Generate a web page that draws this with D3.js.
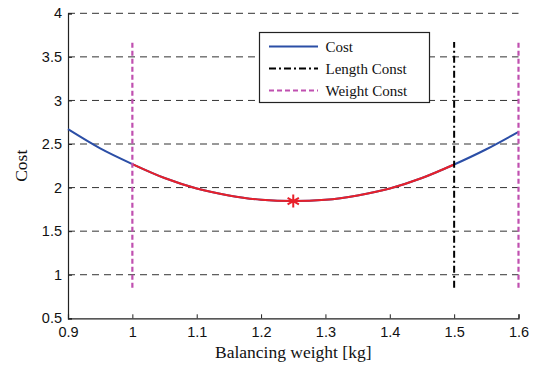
<!DOCTYPE html>
<html>
<head>
<meta charset="utf-8">
<script src="https://cdn.jsdelivr.net/npm/d3@7.9.0/dist/d3.min.js"></script>
<style>
  body { margin: 0; background: #fff; }
  svg { display: block; }
  .tick text { font-family: "Liberation Sans", Arial, sans-serif; font-size: 14.5px; fill: #111; }
</style>
</head>
<body>
<svg width="534" height="367"></svg>
<script>
// balancing weight [kg] and cost
const weights = [0.9, 0.95, 1.0, 1.05, 1.1, 1.15, 1.2, 1.25, 1.3, 1.35, 1.4, 1.45, 1.5, 1.55, 1.6];
const costs   = [2.67, 2.45, 2.27, 2.11, 1.99, 1.91, 1.86, 1.845, 1.86, 1.91, 1.99, 2.11, 2.265, 2.44, 2.64];
const feasibleRange = [1.0, 1.5];
const optimum = { w: 1.25, c: 1.845 };
const weightConst = [1.0, 1.6];
const lengthConst = [1.5];
const constSpan = [0.85, 3.67];
const xTicks = [0.9, 1, 1.1, 1.2, 1.3, 1.4, 1.5, 1.6];
const yTicks = [0.5, 1, 1.5, 2, 2.5, 3, 3.5, 4];
const legendItems = ['Cost', 'Length Const', 'Weight Const'];

const svg = d3.select('svg');
const mLeft = 68, mRight = 518.5, mTop = 13.3, mBottom = 318.3;

const x = d3.scaleLinear().domain([0.9, 1.6]).range([mLeft, mRight]);
const y = d3.scaleLinear().domain([0.5, 4]).range([mBottom, mTop]);

// dashed grid
svg.append('g')
  .selectAll('line')
  .data(yTicks.filter(d => d > 0.5))
  .join('line')
  .attr('x1', mLeft).attr('x2', mRight)
  .attr('y1', d => y(d)).attr('y2', d => y(d))
  .attr('stroke', '#333').attr('stroke-width', 1)
  .attr('stroke-dasharray', '7,5');

// axes (ticks point inward)
const xAxis = svg.append('g')
  .attr('transform', `translate(0,${mBottom})`)
  .call(d3.axisBottom(x).tickValues(xTicks).tickSize(-4).tickPadding(8).tickFormat(d3.format('')));
const yAxis = svg.append('g')
  .attr('transform', `translate(${mLeft},0)`)
  .call(d3.axisLeft(y).tickValues(yTicks).tickSize(-4).tickPadding(6).tickFormat(d3.format('')));
[xAxis, yAxis].forEach(g => {
  g.select('.domain').attr('stroke', '#222').attr('stroke-width', 1.2);
  g.selectAll('.tick line').attr('stroke', '#222');
});

const line = d3.line().x(d => x(d[0])).y(d => y(d[1])).curve(d3.curveMonotoneX);
const pts = weights.map((w, i) => [w, costs[i]]);

// full cost curve
svg.append('path')
  .attr('d', line(pts))
  .attr('fill', 'none').attr('stroke', '#2b4ea6').attr('stroke-width', 2);

// feasible part in red
svg.append('path')
  .attr('d', line(pts.filter(p => p[0] >= feasibleRange[0] && p[0] <= feasibleRange[1])))
  .attr('fill', 'none').attr('stroke', '#e8202a').attr('stroke-width', 2);

// constraint lines
svg.append('g').selectAll('line')
  .data(weightConst).join('line')
  .attr('x1', d => x(d)).attr('x2', d => x(d))
  .attr('y1', y(constSpan[0])).attr('y2', y(constSpan[1]))
  .attr('stroke', '#c050b0').attr('stroke-width', 2.2)
  .attr('stroke-dasharray', '5,3');

svg.append('g').selectAll('line')
  .data(lengthConst).join('line')
  .attr('x1', d => x(d)).attr('x2', d => x(d))
  .attr('y1', y(constSpan[0])).attr('y2', y(constSpan[1]))
  .attr('stroke', '#000').attr('stroke-width', 2)
  .attr('stroke-dasharray', '7,3,2,3');

// optimum marker
svg.append('path')
  .attr('d', d3.symbol(d3.symbolAsterisk, 120)())
  .attr('transform', `translate(${x(optimum.w)},${y(optimum.c)})`)
  .attr('stroke', '#e8202a').attr('stroke-width', 2).attr('fill', 'none');

// legend
const lg = svg.append('g');
lg.append('rect')
  .attr('x', 259.5).attr('y', 32.5).attr('width', 170).attr('height', 70)
  .attr('fill', '#fff').attr('stroke', '#222').attr('stroke-width', 1.2);
const styles = [
  { stroke: '#2b4ea6', dash: null },
  { stroke: '#000', dash: '7,3,2,3' },
  { stroke: '#c050b0', dash: '5,3' }
];
legendItems.forEach((name, i) => {
  const ly = 46.5 + i * 22;
  lg.append('line')
    .attr('x1', 269).attr('x2', 318).attr('y1', ly).attr('y2', ly)
    .attr('stroke', styles[i].stroke).attr('stroke-width', 2)
    .attr('stroke-dasharray', styles[i].dash);
  lg.append('text')
    .attr('x', 325.5).attr('y', ly + 5)
    .attr('font-family', '"Liberation Serif", "Times New Roman", serif')
    .attr('font-size', 15).attr('fill', '#111')
    .text(name);
});

// axis titles
svg.append('text')
  .attr('x', (mLeft + mRight) / 2).attr('y', 358)
  .attr('text-anchor', 'middle')
  .attr('font-family', '"Liberation Serif", "Times New Roman", serif')
  .attr('font-size', 17.5).attr('fill', '#111')
  .text('Balancing weight [kg]');
svg.append('text')
  .attr('transform', `translate(27,${(mTop + mBottom) / 2}) rotate(-90)`)
  .attr('text-anchor', 'middle')
  .attr('font-family', '"Liberation Serif", "Times New Roman", serif')
  .attr('font-size', 17.5).attr('fill', '#111')
  .text('Cost');
</script>
</body>
</html>
